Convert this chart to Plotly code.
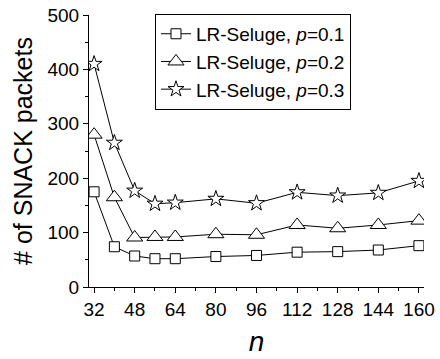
import plotly.graph_objects as go

# Network size n and number of SNACK packets for each loss rate p
n_values = [32, 40, 48, 56, 64, 80, 96, 112, 128, 144, 160]
snack_p01 = [175, 74, 57, 52, 52, 56, 58, 64, 65, 68, 76]
snack_p02 = [280, 165, 91, 92, 92, 97, 96, 114, 108, 114, 122]
snack_p03 = [410, 265, 177, 153, 155, 162, 154, 174, 168, 173, 195]

series_names = ["LR-Seluge, <i>p</i>=0.1", "LR-Seluge, <i>p</i>=0.2", "LR-Seluge, <i>p</i>=0.3"]
x_ticks = [32, 48, 64, 80, 96, 112, 128, 144, 160]
y_ticks = [0, 100, 200, 300, 400, 500]

FONT = "Arial, 'Liberation Sans', sans-serif"

fig = go.Figure()
# open-looking markers: white fill with a thin black outline
styles = [("square", 10), ("triangle-up", 14), ("star", 12)]
for name, vals, (sym, size) in zip(series_names, [snack_p01, snack_p02, snack_p03], styles):
    fig.add_trace(go.Scatter(
        x=n_values, y=vals, name=name, mode="lines+markers",
        line=dict(color="black", width=1),
        marker=dict(symbol=sym, size=size, color="white",
                    line=dict(color="black", width=1)),
    ))

fig.update_layout(
    width=440, height=359,
    margin=dict(l=89, r=16, t=15, b=72, autoexpand=False),
    paper_bgcolor="white", plot_bgcolor="white",
    font=dict(family=FONT, color="black"),
    showlegend=True,
    legend=dict(
        x=0.197, y=1.004, xanchor="left", yanchor="top",
        bgcolor="white", bordercolor="black", borderwidth=1,
        font=dict(family=FONT, size=19, color="black"),
        tracegroupgap=0, itemwidth=30,
    ),
)

fig.update_xaxes(
    range=[30, 162], tickvals=x_ticks, ticktext=[str(v) for v in x_ticks],
    automargin=False,
    showline=True, linecolor="black", linewidth=1, showgrid=False, zeroline=False,
    ticks="outside", ticklen=5, tickcolor="black",
    tickfont=dict(family=FONT, size=19, color="black"),
    minor=dict(dtick=8, tick0=32, ticks="outside", ticklen=3, tickcolor="black", showgrid=False),
    title=dict(text="<i>n</i>", font=dict(family=FONT, size=28, color="black"), standoff=12),
)
fig.update_yaxes(
    range=[0, 500], tickvals=y_ticks,
    automargin=False,
    showline=True, linecolor="black", linewidth=1, showgrid=False, zeroline=False,
    ticks="outside", ticklen=5, tickcolor="black",
    tickfont=dict(family=FONT, size=19, color="black"),
    minor=dict(dtick=50, tick0=0, ticks="outside", ticklen=3, tickcolor="black", showgrid=False),
    title=dict(text="# of SNACK packets", font=dict(family=FONT, size=25, color="black"), standoff=7),
)

fig.write_html("out.html")
